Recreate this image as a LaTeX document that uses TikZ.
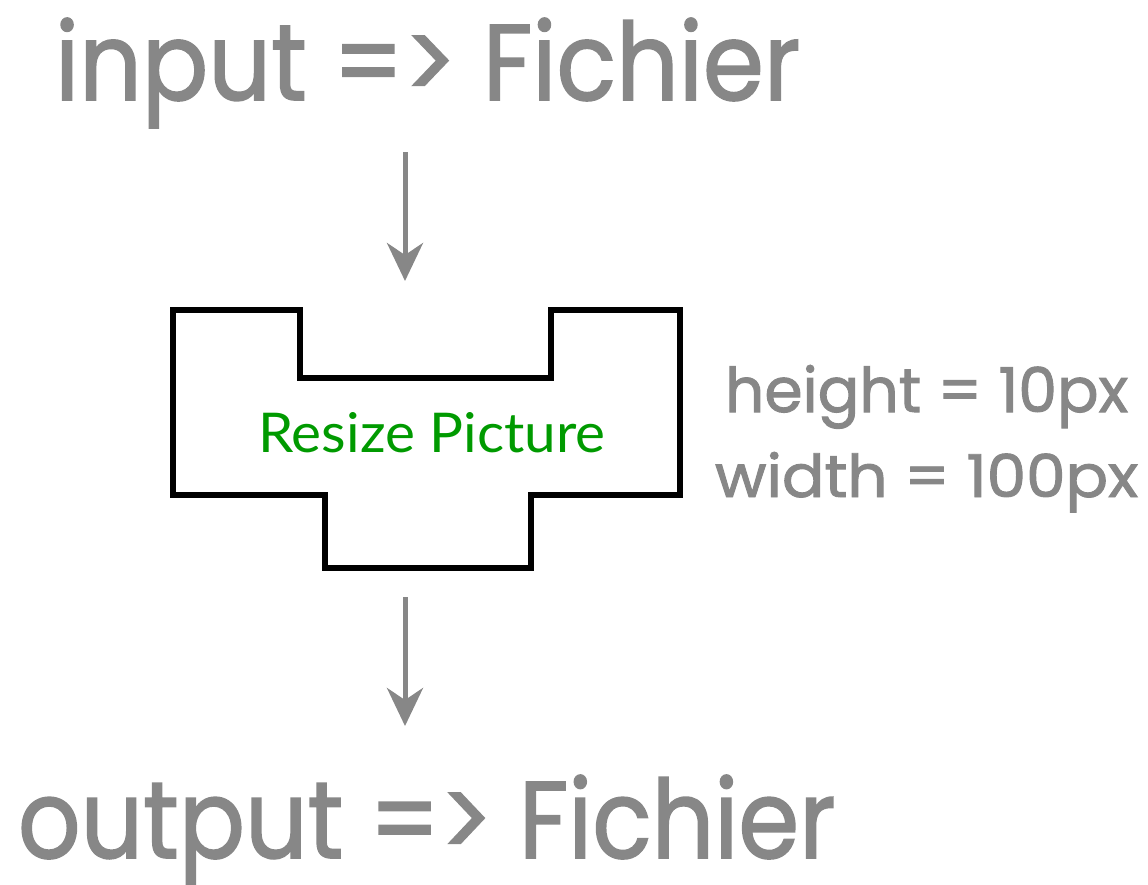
\documentclass[tikz,border=0pt]{standalone}
\usepackage{fontspec}
\setmainfont{Poppins}[FakeBold=1.6]
\newfontfamily\gillfont{Lato}
\usetikzlibrary{arrows.meta}
\definecolor{txtgray}{HTML}{878787}
\definecolor{boxgreen}{HTML}{009A00}
\tikzset{
  graytext/.style={anchor=base west, inner sep=0pt, outer sep=0pt, text=txtgray},
  flowarrow/.style={draw=txtgray, line width=5pt, -{Stealth[length=38pt, width=36pt, inset=12pt]}},
  shapeline/.style={draw=black, line width=6pt, line join=miter}
}
\begin{document}
\begin{tikzpicture}[x=1pt,y=-1pt]
\useasboundingbox (0,0) rectangle (1148,884);
% titles
\node[graytext] (in) at (55,100) {\resizebox{745pt}{82pt}{input => Fichier}};
\node[graytext] (out) at (18,858) {\resizebox{817pt}{83pt}{output => Fichier}};
% shape
\draw[shapeline] (173,310) coordinate (s1) -- (300,310) -- (300,378) -- (551,378) -- (551,310) -- (680,310)
  -- (680,495) -- (531,495) -- (531,568) -- (325,568) -- (325,495) -- (173,495) -- cycle;
\node[anchor=base west, inner sep=0pt, text=boxgreen] (rp) at (258,452) {\resizebox{347pt}{40pt}{\gillfont Resize Picture}};
% side labels
\node[graytext] (h) at (725,412) {\resizebox{403pt}{47pt}{height = 10px}};
\node[graytext] (w) at (715,497) {\resizebox{423pt}{45pt}{width = 100px}};
% arrows
\coordinate (a1s) at (405,152);
\coordinate (a1e) at (405,281);
\coordinate (a2s) at (405,597);
\coordinate (a2e) at (405,726);
\draw[flowarrow] (a1s) -- (a1e);
\draw[flowarrow] (a2s) -- (a2e);
\end{tikzpicture}
\end{document}
